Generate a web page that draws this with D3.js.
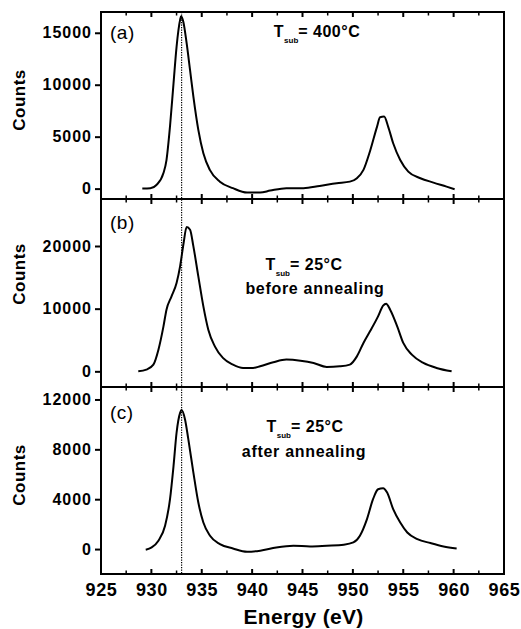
<!DOCTYPE html>
<html>
<head>
<meta charset="utf-8">
<script src="https://cdn.jsdelivr.net/npm/d3@7"></script>
<style>
  body { margin: 0; background: #fff; }
  text { font-family: "Liberation Sans", Arial, sans-serif; fill: #000; }
</style>
</head>
<body>
<div id="chart"></div>
<script>
// Data (eV, counts)
var energyA = [929.1, 929.9, 930.5, 931.2, 931.5, 931.85, 932.2, 932.5, 932.85, 932.95, 933.17, 933.5, 933.84, 934.17, 934.66, 935.16, 935.8, 936.8, 938.1, 939.5, 940.8, 941.8, 943.4, 945.1, 946.7, 948.4, 949.7, 950.4, 951.05, 951.7, 952.4, 952.7, 953.1, 953.5, 954.0, 954.7, 955.5, 956.7, 958.0, 959.3, 960.1];
var countsA = [0, 30, 350, 1500, 2750, 6000, 10150, 13650, 16240, 16600, 16070, 14000, 11400, 8850, 5650, 3400, 1800, 670, 40, -380, -380, -190, 40, 40, 260, 520, 670, 1000, 1800, 3600, 5970, 6870, 6930, 5970, 4370, 2760, 1640, 1000, 580, 190, -60];

var energyB = [928.7, 929.5, 930.2, 930.7, 931.2, 931.5, 932.0, 932.5, 932.85, 933.2, 933.5, 933.84, 934.17, 934.66, 935.16, 935.65, 936.3, 937.1, 938.1, 939.1, 940.1, 940.8, 942.1, 943.4, 944.8, 946.1, 947.4, 948.7, 949.7, 950.4, 951.05, 951.7, 952.5, 953.0, 953.3, 953.7, 954.4, 955.0, 955.85, 957.0, 958.3, 959.8];
var countsB = [0, 270, 1070, 3460, 7180, 9840, 11960, 14100, 16750, 20480, 23030, 22600, 19940, 15150, 10370, 6650, 3990, 2140, 1070, 540, 540, 800, 1440, 1870, 1700, 1340, 700, 800, 1070, 2390, 4530, 6380, 8770, 10480, 10800, 9840, 7180, 4530, 2660, 1340, 540, 0];

var energyC = [929.44, 930.03, 930.7, 931.36, 931.85, 932.2, 932.5, 932.85, 933.0, 933.34, 933.67, 934.17, 934.66, 935.16, 935.82, 936.8, 938.1, 939.5, 940.8, 942.4, 944.1, 945.75, 947.4, 949.1, 950.05, 950.7, 951.4, 952.0, 952.5, 953.0, 953.4, 954.0, 954.7, 955.4, 956.4, 957.7, 959.0, 960.3];
var countsC = [-50, 130, 670, 1870, 4000, 6670, 9330, 10930, 11150, 10400, 8800, 6130, 3730, 2130, 1070, 400, 50, -210, -130, 130, 270, 210, 270, 350, 530, 1070, 2400, 4000, 4800, 4880, 4530, 3200, 2130, 1330, 800, 480, 210, 50];

var xTicks = [925, 930, 935, 940, 945, 950, 955, 960, 965];
var xMinorTicks = [927.5, 932.5, 937.5, 942.5, 947.5, 952.5, 957.5, 962.5];
var yTicksA = [0, 5000, 10000, 15000];
var yTicksB = [0, 10000, 20000];
var yTicksC = [0, 4000, 8000, 12000];
var panelLabels = ["(a)", "(b)", "(c)"];
var tempLabels = ["400°C", "25°C", "25°C"];
var stateLabels = ["", "before annealing", "after annealing"];
var referenceEnergy = 933.0;

// Layout
var width = 521, height = 629;
var left = 101, right = 504;

var panels = [
  {e: energyA, c: countsA, ticks: yTicksA, domain: [-1000, 17000], top: 12, bottom: 199,
   countsY: 100, labelY: 39, tX: 317, tY: 37, sX: 0, sY: 0},
  {e: energyB, c: countsB, ticks: yTicksB, domain: [-2500, 27500], top: 199, bottom: 387,
   countsY: 274, labelY: 229, tX: 304, tY: 270, sX: 315, sY: 294},
  {e: energyC, c: countsC, ticks: yTicksC, domain: [-2000, 13000], top: 387, bottom: 574,
   countsY: 475, labelY: 419, tX: 305, tY: 432, sX: 304, sY: 457}
];

var svg = d3.select("#chart").append("svg")
    .attr("width", width)
    .attr("height", height);

var x = d3.scaleLinear().domain([925, 965]).range([left, right]);

// inward x ticks drawn as plain lines on the frame edges
function xTickMarks(g, values, yEdge, dir, len, w) {
  g.append("g").selectAll("line")
    .data(values)
    .join("line")
      .attr("x1", function(d) { return x(d); })
      .attr("x2", function(d) { return x(d); })
      .attr("y1", yEdge)
      .attr("y2", yEdge + dir * len)
      .attr("stroke", "#000")
      .attr("stroke-width", w);
}

panels.forEach(function(p, i) {
  var y = d3.scaleLinear().domain(p.domain).range([p.bottom, p.top]);
  var g = svg.append("g");

  // y axis, ticks outward
  var yAxis = g.append("g")
      .attr("transform", "translate(" + left + ",0)")
      .call(d3.axisLeft(y).tickValues(p.ticks).tickSize(6).tickPadding(3).tickFormat(d3.format("d")));
  yAxis.select(".domain").remove();
  yAxis.selectAll("line").attr("stroke-width", 2);
  yAxis.selectAll("text")
      .style("font-size", "16px").style("font-weight", "bold").style("letter-spacing", "1px");

  // x tick labels only on the lowest panel
  if (i === 2) {
    var bot = g.append("g")
        .attr("transform", "translate(0," + p.bottom + ")")
        .call(d3.axisBottom(x).tickValues(xTicks).tickSize(0).tickPadding(9).tickFormat(d3.format("d")));
    bot.select(".domain").remove();
    bot.selectAll("text").style("font-size", "18px").style("font-weight", "bold")
        .style("letter-spacing", "0.6px");
  }

  xTickMarks(g, xTicks, p.bottom, -1, 5, 2);
  xTickMarks(g, xMinorTicks, p.bottom, -1, 3.5, 1.5);
  xTickMarks(g, xTicks, p.top, 1, 5, 2);
  xTickMarks(g, xMinorTicks, p.top, 1, 3.5, 1.5);

  // spectrum
  var pts = p.e.map(function(d, k) { return [d, p.c[k]]; });
  var line = d3.line()
      .x(function(d) { return x(d[0]); })
      .y(function(d) { return y(d[1]); })
      .curve(d3.curveMonotoneX);
  g.append("path")
      .datum(pts)
      .attr("d", line)
      .attr("fill", "none")
      .attr("stroke", "#000")
      .attr("stroke-width", 2)
      .attr("stroke-linejoin", "round");

  // frame
  g.append("rect")
      .attr("x", left).attr("y", p.top)
      .attr("width", right - left).attr("height", p.bottom - p.top)
      .attr("fill", "none").attr("stroke", "#000").attr("stroke-width", 2);

  // labels
  g.append("text")
      .attr("x", 110).attr("y", p.labelY)
      .style("font-size", "19px").style("letter-spacing", "0.5px")
      .text(panelLabels[i]);

  g.append("text")
      .attr("transform", "translate(25," + p.countsY + ") rotate(-90)")
      .attr("text-anchor", "middle")
      .style("font-size", "17px").style("font-weight", "bold").style("letter-spacing", "0.5px")
      .text("Counts");

  var t = g.append("text")
      .attr("x", p.tX).attr("y", p.tY)
      .attr("text-anchor", "middle")
      .style("font-size", "16px").style("font-weight", "bold").style("letter-spacing", "0.5px");
  t.append("tspan").text("T");
  t.append("tspan").attr("dy", 6).style("font-size", "8px").style("letter-spacing", "0px").text("sub");
  t.append("tspan").attr("dy", -6).text("= " + tempLabels[i]);

  if (stateLabels[i]) {
    g.append("text")
        .attr("x", p.sX).attr("y", p.sY)
        .attr("text-anchor", "middle")
        .style("font-size", "16px").style("font-weight", "bold").style("letter-spacing", "0.7px")
        .text(stateLabels[i]);
  }
});

// dotted reference line
svg.append("line")
    .attr("x1", x(referenceEnergy)).attr("x2", x(referenceEnergy))
    .attr("y1", panels[0].top).attr("y2", panels[2].bottom)
    .attr("stroke", "#000").attr("stroke-width", 1.2)
    .attr("stroke-dasharray", "1.2,1.3");

svg.append("text")
    .attr("x", (left + right) / 2 + 1).attr("y", 624)
    .attr("text-anchor", "middle")
    .style("font-size", "21px").style("font-weight", "bold").style("letter-spacing", "0.3px")
    .text("Energy (eV)");
</script>
</body>
</html>
